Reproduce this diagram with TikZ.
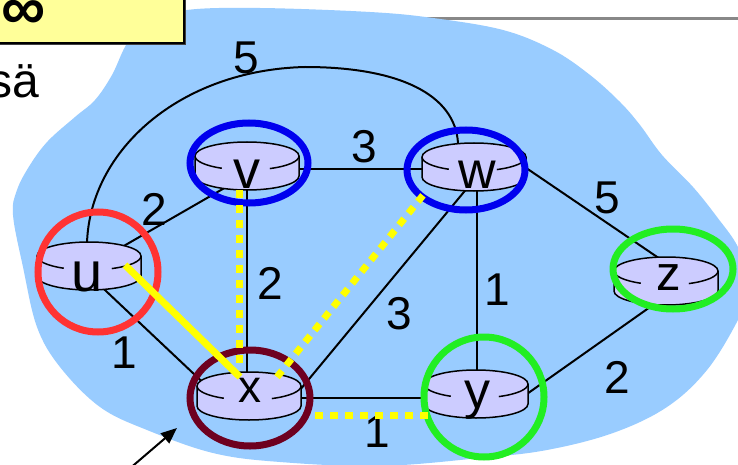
\documentclass[tikz,border=0pt]{standalone}
\usepackage{fontspec}
\setmainfont{Liberation Sans}
\usetikzlibrary{calc,arrows.meta}
\definecolor{blobc}{HTML}{99CCFF}
\definecolor{lav}{HTML}{CCCCFF}
\definecolor{boxy}{HTML}{FFFF99}
\definecolor{hiyel}{HTML}{FFFF00}
\definecolor{redc}{HTML}{FF3333}
\definecolor{bluec}{HTML}{0000EE}
\definecolor{greenc}{HTML}{22EE22}
\definecolor{maroonc}{HTML}{6E0020}
\definecolor{grayl}{HTML}{888888}
\tikzset{
  edge/.style={draw=black, line width=2pt},
  wt/.style={font=\fontsize{46}{46}\selectfont, inner sep=0pt},
  rlabel/.style={inner sep=0pt, anchor=base},
  ring/.style={line width=7pt},
  yellowpath/.style={draw=hiyel, line width=7pt},
  yellowdots/.style={draw=hiyel, line width=7pt, dash pattern=on 8pt off 7pt},
  routerbody/.style={fill=lav, draw=black, line width=1.5pt},
}
\newcommand\fsz[1]{\fontsize{#1}{#1}\selectfont}
\newcommand\drawrouter[1]{%
  \filldraw[routerbody] ($(#1)+(-52,-10)$) -- ($(#1)+(-52,10)$)
    arc[start angle=180,end angle=360,x radius=52pt,y radius=14pt]
    -- ($(#1)+(52,-10)$)
    arc[start angle=0,end angle=180,x radius=52pt,y radius=14pt] -- cycle;
  \draw[line width=1.5pt] ($(#1)+(-52,-10)$) arc[start angle=180,end angle=241,x radius=52pt,y radius=14pt];
  \draw[line width=1.5pt] ($(#1)+(52,-10)$) arc[start angle=360,end angle=296,x radius=52pt,y radius=14pt];
}
\begin{document}
\begin{tikzpicture}[x=1pt,y=-1pt]
\useasboundingbox (0,0) rectangle (738,465);
\clip (0,0) rectangle (738,465);
\fill[white] (0,0) rectangle (738,465);
% gray rule
\draw[grayl, line width=3pt] (400,19) -- (740,19);
% blob
\fill[blobc] plot[smooth cycle, tension=0.6] coordinates {
 (187,10) (260,8) (370,12) (433,18) (503,30) (553,50) (590,75) (620,102)
 (640,125) (662,155) (693,187) (717,217) (738,247) (752,285) (738,320)
 (707,370) (667,407) (613,433) (547,450) (480,458) (380,466) (280,462)
 (213,453) (147,430) (100,407) (60,367) (37,327) (23,267) (13,215)
 (17,190) (30,165) (48,141) (75,117) (95,100) (112,75) (128,42) (150,22)};
% title box
\fill[black!75] (-10,-10) rectangle (186,45);
\filldraw[fill=boxy, draw=black, line width=1.5pt] (-10,-10) rectangle (184,43);
\node[font=\fsz{62}\bfseries, inner sep=0pt] (inf) at (24,15) {∞};
\node[font=\fsz{48}, inner sep=0pt, anchor=base east] (sa) at (39,98) {sä};
% router positions
\coordinate (u) at (89,266);
\coordinate (v) at (247,166);
\coordinate (w) at (474,167);
\coordinate (x) at (249,396);
\coordinate (y) at (476,394);
\coordinate (z) at (666,281);
\coordinate (top5) at (305,67);
% edges
\draw[edge] (u) -- ($(v)+(0,9)$);
\draw[edge] ($(v)+(0,3)$) -- ($(w)+(0,2)$);
\draw[edge] (v) -- ($(x)+(-2,0)$);
\draw[edge] ($(u)+(0,9)$) -- ($(x)+(-19,12)$);
\draw[edge] ($(x)+(41,6)$) -- ($(w)+(4,8)$);
\draw[edge] ($(x)+(0,2)$) -- ($(y)+(0,4)$);
\draw[edge] ($(w)+(3,0)$) -- ($(y)+(1,0)$);
\draw[edge] ($(w)+(36,-10)$) -- ($(z)+(0,-18)$);
\draw[edge] ($(y)+(24,19)$) -- ($(z)+(-6,19)$);
\draw[edge] ($(u)+(-2,-23)$) .. controls (90,150) and (180,70) .. (top5)
  .. controls (400,67) and (455,95) .. ($(w)+(-16,-24)$);
% routers
\drawrouter{u}
\drawrouter{v}
\drawrouter{w}
\drawrouter{x}
\drawrouter{y}
\drawrouter{z}
\node[rlabel, font=\fsz{56}] (lu) at (87,291) {u};
\node[rlabel, font=\fsz{54}] (lv) at (247,188) {v};
\node[rlabel, font=\fsz{52}] (lw) at (477,188) {w};
\node[rlabel, font=\fsz{46}] (lx) at (250,402) {x};
\node[rlabel, font=\fsz{52}] (ly) at (477,408) {y};
\node[rlabel, font=\fsz{49}] (lz) at (669,290) {z};
% weights
\node[wt] (wuw) at (246,58) {5};
\node[wt] (wuv) at (154,209) {2};
\node[wt] (wvw) at (364,147) {3};
\node[wt] (wvx) at (270,283) {2};
\node[wt] (wux) at (124,353) {1};
\node[wt] (wxw) at (399,314) {3};
\node[wt] (wwy) at (497,290) {1};
\node[wt] (wwz) at (607,198) {5};
\node[wt] (wyz) at (617,377) {2};
\node[wt] (wxy) at (377,432) {1};
% rings
\draw[ring, redc] (98,272) ellipse[x radius=60pt, y radius=60pt];
\draw[ring, bluec] (249,163) ellipse[x radius=59pt, y radius=40pt];
\draw[ring, bluec] (466,170) ellipse[x radius=59pt, y radius=40pt];
\draw[ring, maroonc] (250,398) ellipse[x radius=60pt, y radius=48pt];
\draw[ring, greenc] (484,397) ellipse[x radius=60pt, y radius=60pt];
\draw[ring, greenc] (673,269) ellipse[x radius=60pt, y radius=40pt];
% yellow shortest-path marks
\draw[yellowpath] ($(u)+(36,-1)$) -- ($(x)+(-9,-19)$);
\draw[yellowdots] ($(v)+(-8,24)$) -- ($(x)+(-10,-33)$);
\draw[yellowdots] ($(x)+(28,-19)$) -- ($(w)+(-50,27)$);
\draw[yellowdots] ($(x)+(66,19)$) -- ($(y)+(-48,21)$);
% pointer arrow
\coordinate (atail) at (128,470);
\coordinate (ahead) at (177,428);
\draw[line width=2pt, -{Triangle[length=16pt,width=13pt]}] (atail) -- (ahead);
\end{tikzpicture}
\end{document}
